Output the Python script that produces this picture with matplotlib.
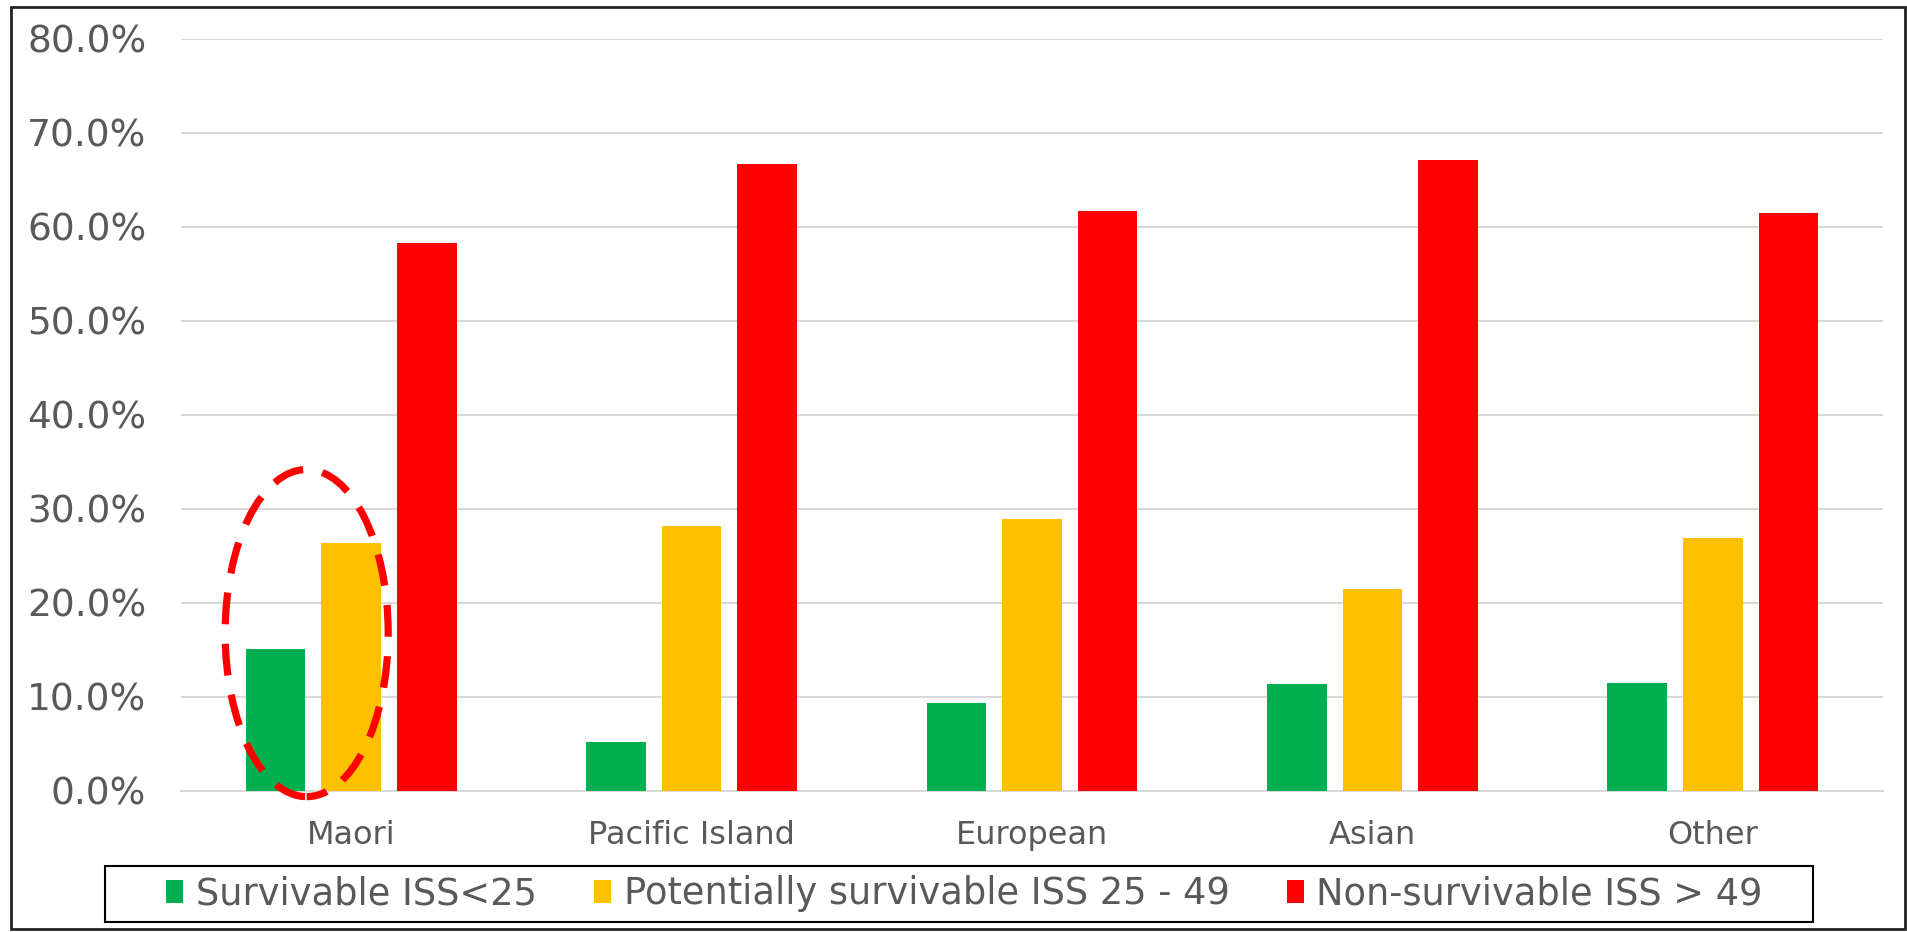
import matplotlib
matplotlib.use('Agg')
import matplotlib.pyplot as plt
import numpy as np
from matplotlib.patches import Ellipse, Rectangle

categories = ["Maori", "Pacific Island", "European", "Asian", "Other"]
survivable = [0.151, 0.052, 0.094, 0.114, 0.115]
potentially = [0.264, 0.282, 0.289, 0.215, 0.269]
non_survivable = [0.583, 0.667, 0.617, 0.671, 0.615]
series_names = ["Survivable ISS<25", "Potentially survivable ISS 25 - 49", "Non-survivable ISS > 49"]
colors = ["#00B050", "#FFC000", "#FF0000"]
yticks = [0.0, 0.1, 0.2, 0.3, 0.4, 0.5, 0.6, 0.7, 0.8]

grey = "#595959"
fig = plt.figure(figsize=(19.08, 9.32), dpi=100)
ax = fig.add_axes([0.0949, 0.1513, 0.892, 0.8069])

x = np.arange(len(categories))
w = 0.175
off = 0.222
for i, vals in enumerate([survivable, potentially, non_survivable]):
    ax.bar(x + (i - 1) * off, vals, width=w, color=colors[i], label=series_names[i], zorder=3)

ax.set_xlim(-0.5, len(categories) - 0.5)
ax.set_ylim(0, 0.8)
ax.set_yticks(yticks)
ax.set_yticklabels([f"{v*100:.1f}%" for v in yticks], fontsize=27, color=grey)
ax.set_xticks(x)
ax.set_xticklabels(categories, fontsize=23, color=grey)
ax.tick_params(axis='y', length=0, pad=25)
ax.tick_params(axis='x', length=0, pad=21)
ax.grid(axis='y', color='#d9d9d9', lw=1.5, zorder=0)
for s in ['top', 'right', 'left']:
    ax.spines[s].set_visible(False)
ax.spines['bottom'].set_color('#d9d9d9')
ax.spines['bottom'].set_linewidth(1.5)

# dashed highlight around Maori
ell = Ellipse((-0.131, 0.168), 0.479, 0.348, fill=False, edgecolor='#FF0000',
              lw=5.2, linestyle=(1.5, (4.4, 2.7)), zorder=4, clip_on=False)
ax.add_patch(ell)

leg = fig.legend(loc='center', bbox_to_anchor=(0.5055, 0.0408), ncol=3,
                 frameon=False, handlelength=0.46, handleheight=0.6,
                 handletextpad=0.35, columnspacing=1.55,
                 prop={'family': 'DejaVu Sans', 'size': 26.5})
for t in leg.get_texts():
    t.set_color(grey)

# legend frame
fig.patches.append(Rectangle((0.055, 0.0107), 0.895, 0.060, transform=fig.transFigure,
                             fill=False, edgecolor='black', lw=1.5))
# outer border
fig.patches.append(Rectangle((0.006, 0.003), 0.9925, 0.99, transform=fig.transFigure,
                             fill=False, edgecolor='#222222', lw=2))

plt.savefig('out.png', dpi=100)
